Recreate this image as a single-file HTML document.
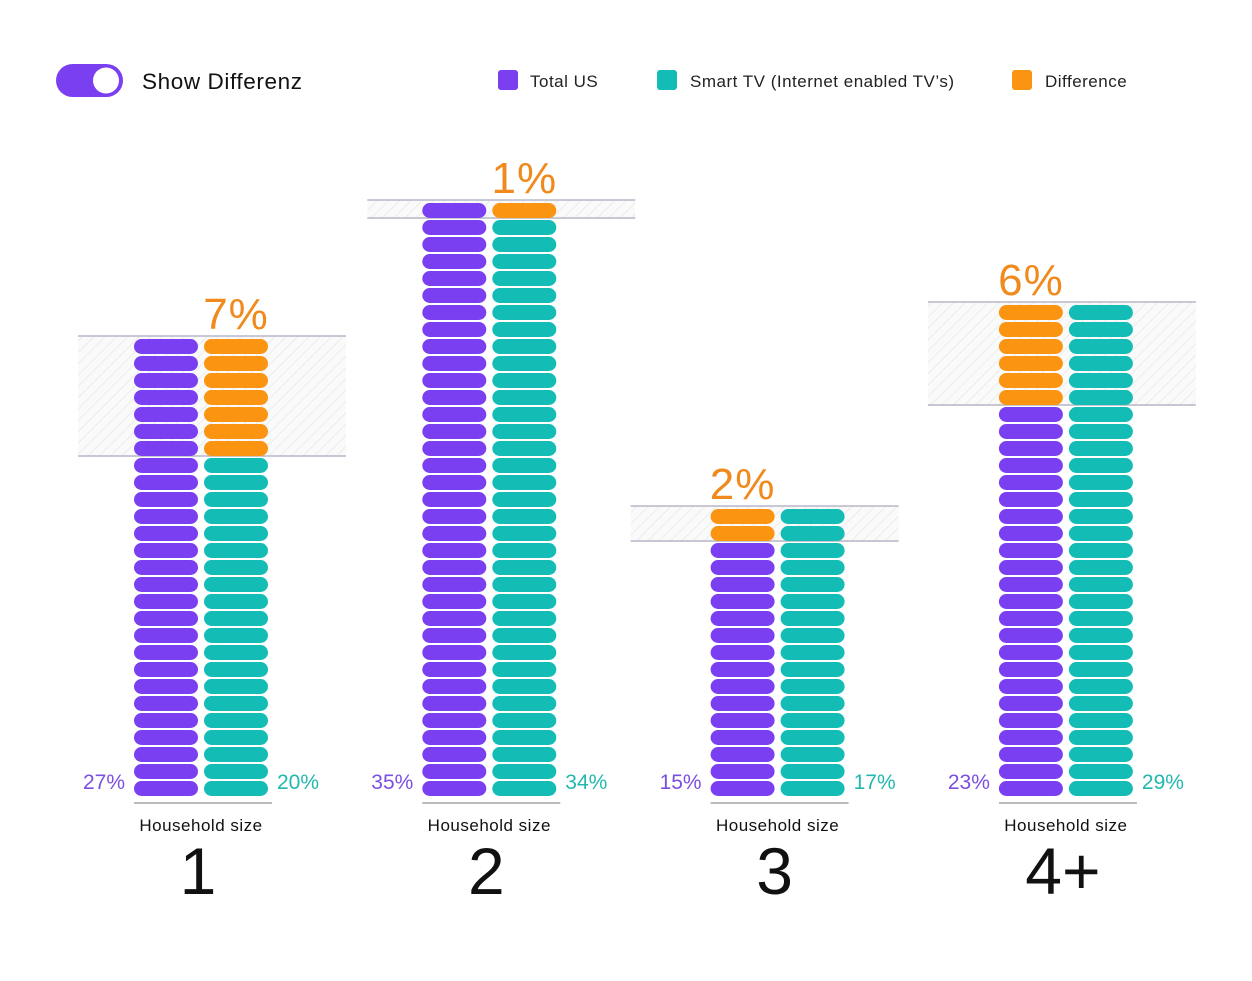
<!DOCTYPE html>
<html><head><meta charset="utf-8"><style>
html,body{margin:0;padding:0;background:#fff;}
body{width:1252px;height:976px;overflow:hidden;font-family:"Liberation Sans",sans-serif;}
</style></head><body>
<svg id="chart" width="1252" height="976" xmlns="http://www.w3.org/2000/svg" font-family="Liberation Sans, sans-serif">
<defs>
<pattern id="hatch" patternUnits="userSpaceOnUse" width="8" height="8" patternTransform="rotate(45)">
<rect width="8" height="8" fill="#fafafa"/><line x1="0" y1="0" x2="0" y2="8" stroke="#ececec" stroke-width="2"/>
</pattern>
</defs>
<g>
<rect x="56" y="64" width="67" height="33" rx="16.5" fill="#7b3ff2"/>
<circle cx="106" cy="80.5" r="13" fill="#fff"/>
</g>
<text x="142" y="89" font-size="22.5" letter-spacing="0.6" fill="#111">Show Differenz</text>
<g letter-spacing="0.5">
<g><rect x="498" y="70" width="20" height="20" rx="3" fill="#7b3ff2"/><text x="530" y="87" font-size="17" fill="#222">Total US</text></g>
<g><rect x="657" y="70" width="20" height="20" rx="3" fill="#13bdb5"/><text x="690" y="87" font-size="17" fill="#222">Smart TV (Internet enabled TV’s)</text></g>
<g><rect x="1012" y="70" width="20" height="20" rx="3" fill="#fb9410"/><text x="1045" y="87" font-size="17" fill="#222">Difference</text></g>
</g>
<g id="groups"></g>
</svg>
<script>
const categories = ["1","2","3","4+"];
const totalUS = [27,35,15,23];
const smartTV = [20,34,17,29];

const NS="http://www.w3.org/2000/svg";
const root=document.getElementById('groups');
const baseY=797, pitch=17, pillH=15, colW=64, colGap=6;
const bandOffsets=[56,55,80,71];
const PURPLE="#7b3ff2", TEAL="#13bdb5", ORANGE="#fb9410";
function yOf(v){return baseY - v*pitch;}
function gx(i){return 134 + i*288.3;}
function mk(tag,attrs,parent){const e=document.createElementNS(NS,tag);for(const k in attrs)e.setAttribute(k,attrs[k]);parent.appendChild(e);return e;}

categories.forEach((cat,i)=>{
  const g=mk('g',{},root);
  
  
  const x1=gx(i), x2=x1+colW+colGap;
  const a=totalUS[i], b=smartTV[i];
  const hi=Math.max(a,b), lo=Math.min(a,b), diff=hi-lo;
  const bx=x1-bandOffsets[i], bw=268;
  const band=mk('rect',{x:bx,y:yOf(hi)-2,width:bw,height:(hi-lo)*pitch+2,fill:'url(#hatch)'},g);
  
  
  mk('line',{x1:bx,x2:bx+bw,y1:yOf(hi)-2,y2:yOf(hi)-2,stroke:'#b8b8c8','stroke-width':1.5},g);
  mk('line',{x1:bx,x2:bx+bw,y1:yOf(lo)-1,y2:yOf(lo)-1,stroke:'#b8b8c8','stroke-width':1.5},g);
  [[x1,a,PURPLE,'total-us'],[x2,b,TEAL,'smart-tv']].forEach(([cx,v,col,nm])=>{
    const isShort = v===lo && diff>0;
    const n = isShort ? hi : v;
    for(let k=0;k<n;k++){
      const fill = k<v ? col : ORANGE;
      const r=mk('rect',{x:cx,y:yOf(k+1)+1,width:colW,height:pillH,rx:7.5,fill:fill},g);
      
      
    }
  });
  const shortX = (a<=b)?x1:x2;
  const dl=mk('text',{x:shortX+colW/2,y:yOf(hi)-9,'font-size':44,fill:'#f08a1c','text-anchor':'middle','letter-spacing':'1'},g);
  dl.textContent=diff+'%';
  
  
  const l1=mk('text',{x:x1-9,y:789,'font-size':21,fill:'#7b4fe0','text-anchor':'end'},g);
  l1.textContent=a+'%';
  
  
  const l2=mk('text',{x:x2+colW+9,y:789,'font-size':21,fill:'#22b8b0'},g);
  l2.textContent=b+'%';
  
  
  mk('line',{x1:x1,x2:x2+colW+4,y1:803,y2:803,stroke:'#bbb','stroke-width':2},g);
  const cx=(x1+x2+colW)/2;
  const hs=mk('text',{x:cx,y:831,'font-size':17,fill:'#111','text-anchor':'middle','letter-spacing':'0.5'},g);
  hs.textContent='Household size';
  
  
  const cl=mk('text',{x:cx-3,y:894,'font-size':66,fill:'#111','text-anchor':'middle'},g);
  cl.textContent=cat;
  
  
});
</script>
</body></html>
